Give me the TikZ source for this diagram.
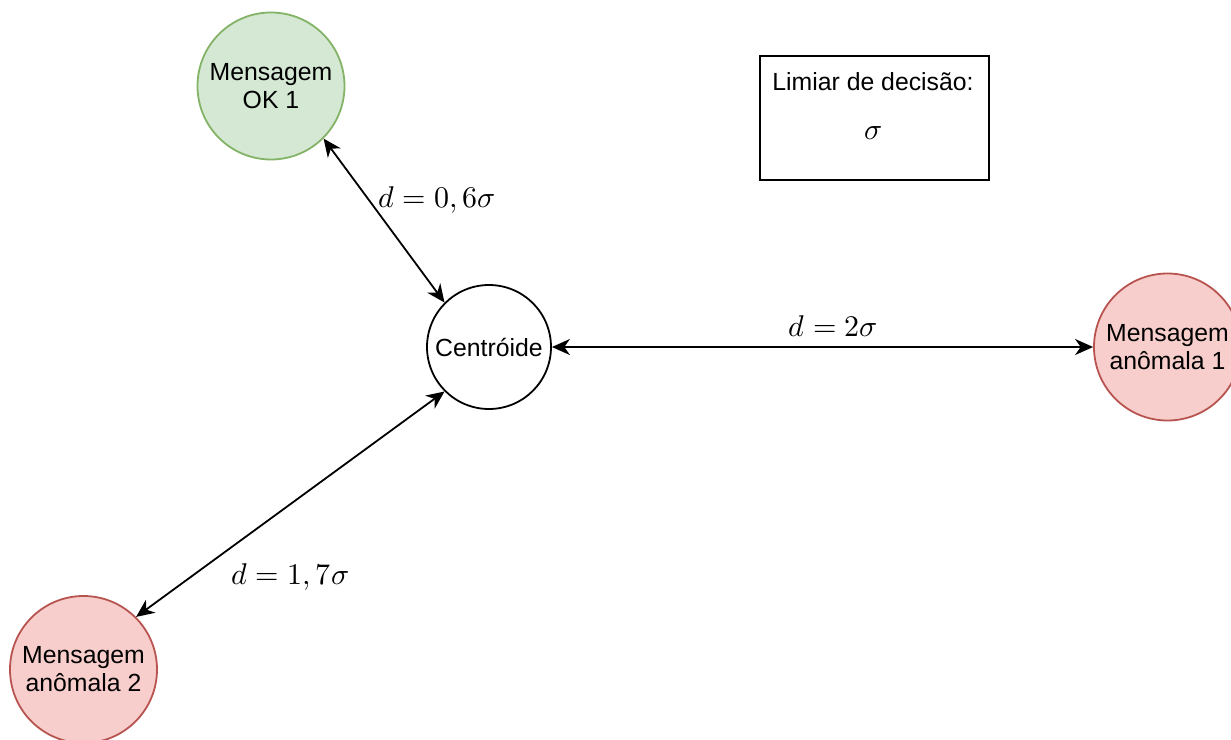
\documentclass[tikz,border=0pt]{standalone}
\usepackage{fontspec}
\setmainfont{Liberation Sans}
\usepackage{unicode-math}
\setmathfont{Latin Modern Math}
\usetikzlibrary{arrows.meta}
\definecolor{okfill}{HTML}{D5E8D4}
\definecolor{okline}{HTML}{82B366}
\definecolor{badfill}{HTML}{F8CECC}
\definecolor{badline}{HTML}{B85450}
\tikzset{
  msg/.style={circle, draw, line width=0.9pt, minimum size=73.5pt, inner sep=0pt, align=center, font=\fontsize{12.4}{14}\selectfont},
  okmsg/.style={msg, draw=okline, fill=okfill},
  badmsg/.style={msg, draw=badline, fill=badfill},
  cent/.style={msg, draw=black, minimum size=62pt},
  dist/.style={line width=0.9pt, {Stealth[length=9pt,width=8pt,inset=2.8pt]}-{Stealth[length=9pt,width=8pt,inset=2.8pt]}},
  lbl/.style={font=\fontsize{15}{18}\selectfont},
  infobox/.style={draw, line width=0.9pt, minimum width=114.5pt, minimum height=62pt, inner sep=0pt}
}
\begin{document}
\begin{tikzpicture}[x=0.5pt, y=-0.5pt]
\useasboundingbox (0,0) rectangle (1231,739);
\clip (0,0) rectangle (1231,739);
\node[okmsg] (ok) at (271,86) {Mensagem\\OK 1};
\node[cent] (c) at (489,347) {Centróide};
\node[badmsg] (a1) at (1167.5,347) {Mensagem\\anômala 1};
\node[badmsg] (a2) at (83.5,669.5) {Mensagem\\anômala 2};
\node[infobox] (box) at (874.5,118) {};
\node[font=\fontsize{12.4}{14}\selectfont] (limiar) at (873,82) {Limiar de decisão:};
\node[lbl] (sig) at (873,133) {$\sigma$};
\draw[dist] (ok.-45) -- (c.135);
\draw[dist] (c.east) -- (a1.west);
\draw[dist] (c.225) -- (a2.45);
\node[lbl] (l1) at (437,200) {$d=0,6\sigma$};
\node[lbl] (l2) at (833,326) {$d=2\sigma$};
\node[lbl] (l3) at (290,577) {$d=1,7\sigma$};
\end{tikzpicture}
\end{document}
